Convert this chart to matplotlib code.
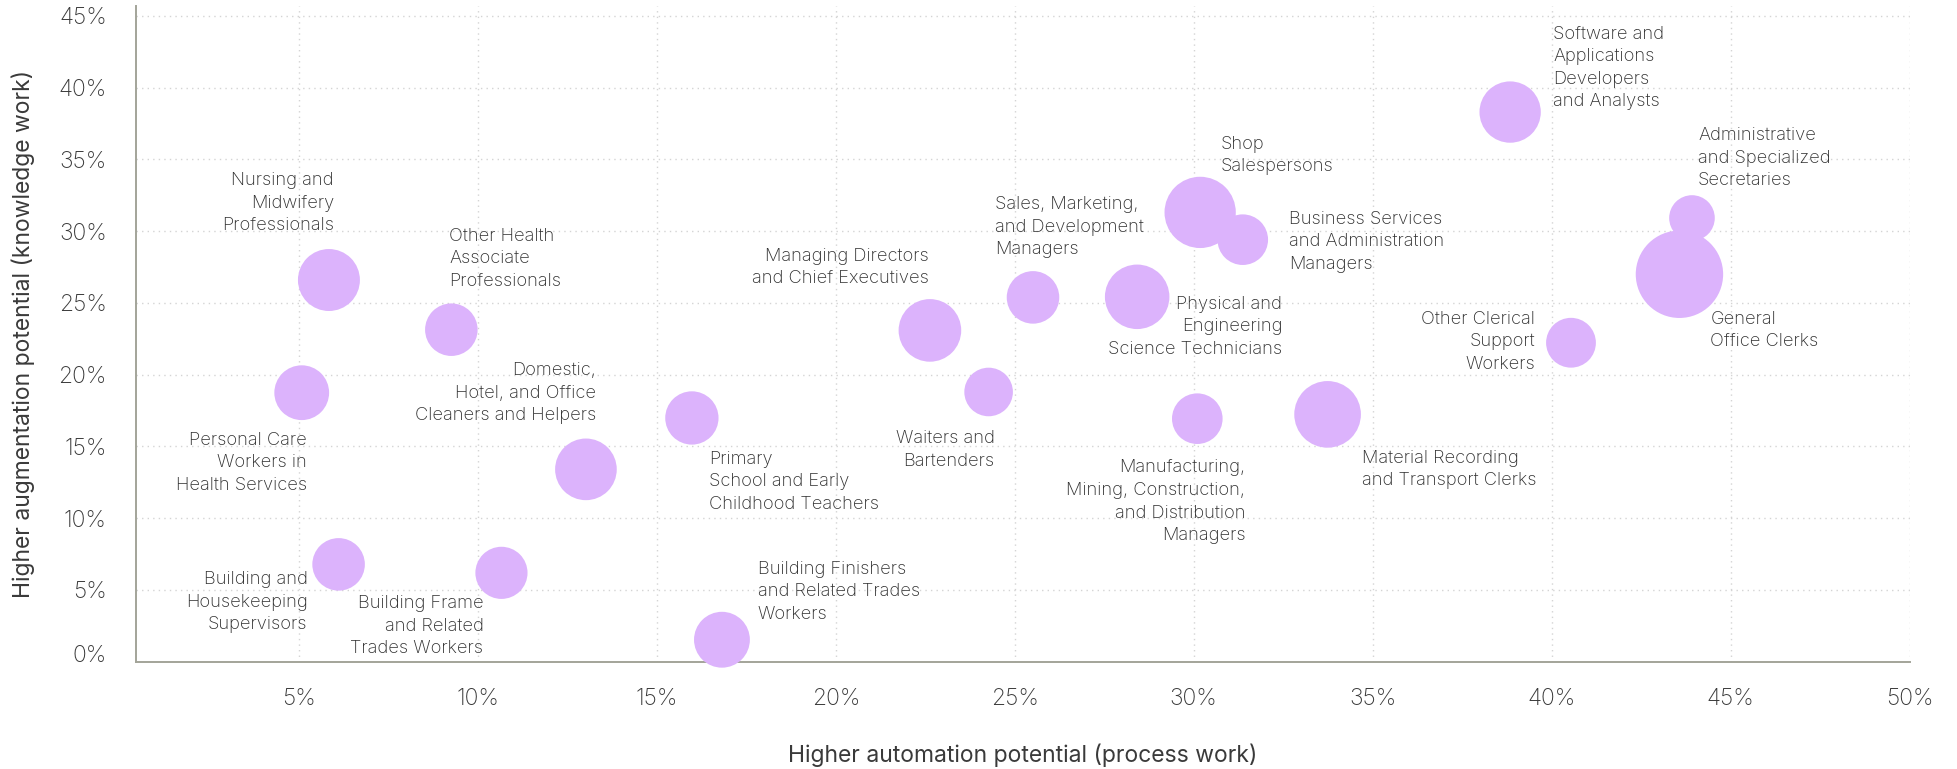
import matplotlib
matplotlib.use("Agg")
import matplotlib.pyplot as plt
import matplotlib.transforms as mtransforms
from matplotlib.ticker import FuncFormatter
import numpy as np

# ---------------- data ----------------
occupations = [
    "Nursing and\nMidwifery\nProfessionals",
    "Other Health\nAssociate\nProfessionals",
    "Personal Care\nWorkers in\nHealth Services",
    "Domestic,\nHotel, and Office\nCleaners and Helpers",
    "Primary\nSchool and Early\nChildhood Teachers",
    "Building and\nHousekeeping\nSupervisors",
    "Building Frame\nand Related\nTrades Workers",
    "Building Finishers\nand Related Trades\nWorkers",
    "Managing Directors\nand Chief Executives",
    "Waiters and\nBartenders",
    "Sales, Marketing,\nand Development\nManagers",
    "Physical and\nEngineering\nScience Technicians",
    "Shop\nSalespersons",
    "Business Services\nand Administration\nManagers",
    "Manufacturing,\nMining, Construction,\nand Distribution\nManagers",
    "Material Recording\nand Transport Clerks",
    "Software and\nApplications\nDevelopers\nand Analysts",
    "Administrative\nand Specialized\nSecretaries",
    "General\nOffice Clerks",
    "Other Clerical\nSupport\nWorkers",
]
automation = [5.84, 9.26, 5.08, 13.02, 15.98, 6.11, 10.66, 16.82, 22.63, 24.27,
              25.51, 28.42, 30.18, 31.37, 30.10, 33.74, 38.84, 43.92, 43.57, 40.54]
augmentation = [26.59, 23.13, 18.74, 13.40, 16.98, 6.78, 6.19, 1.53, 23.08, 18.79,
                25.38, 25.42, 31.30, 29.40, 16.93, 17.23, 38.29, 30.91, 26.99, 22.22]
bubble_size = [9.6, 6.9, 7.5, 9.5, 7.1, 6.9, 6.8, 7.8, 9.8, 5.9,
               6.9, 10.4, 12.7, 6.4, 6.4, 11.1, 9.4, 5.2, 19.1, 6.2]

x_ticks = [5, 10, 15, 20, 25, 30, 35, 40, 45, 50]
y_ticks = [0, 5, 10, 15, 20, 25, 30, 35, 40, 45]

# label layout: (alignment, dx px, dy px downward) relative to bubble centre
label_layout = [
    ("right", 5, -77), ("left", -2, -71), ("right", 5, 70), ("right", 10, -76),
    ("left", 17, 64), ("right", -31, 38), ("right", -18, 53), ("left", 36, -48),
    ("right", -1, -63), ("right", 6, 58), ("left", -38, -70), ("right", 145, 30),
    ("left", 20, -57), ("left", 46, 2), ("right", 48, 83), ("left", 34, 55),
    ("left", 43, -44), ("left", 6, -60), ("left", 31, 56), ("right", -36, -1),
]

# ---------------- style ----------------
FONT = ["Inter", "DejaVu Sans"]
plt.rcParams["font.family"] = FONT
plt.rcParams["font.weight"] = "light"
bubble_color = "#DCB3FC"
text_color = "#2f2f2f"
tick_color = "#3a3a3a"
spine_color = "#a3a499"
grid_color = "#d4d4d4"

dpi = 100
W, H = 1957, 769
ax_left, ax_right, ax_top, ax_bottom = 136, 1909.6, 5.7, 661.7
fig = plt.figure(figsize=(W / dpi, H / dpi), dpi=dpi)
ax = fig.add_axes([ax_left / W, 1 - ax_bottom / H, (ax_right - ax_left) / W, (ax_bottom - ax_top) / H])

s_vals = [(20 * np.sqrt(v) * 72 / dpi) ** 2 for v in bubble_size]
ax.scatter(automation, augmentation, s=s_vals, color=bubble_color, linewidths=0,
           zorder=3, clip_on=False)

for name, x, y, (ha, dx, dy) in zip(occupations, automation, augmentation, label_layout):
    ax.annotate(name, xy=(x, y), xytext=(dx, -dy), textcoords="offset pixels",
                ha=ha, va="center", multialignment=ha, fontsize=13.2,
                color=text_color, linespacing=1.42, zorder=4)

ax.set_xlim(0.45, 50)
ax.set_ylim(0, 45.7)
ax.set_xticks(x_ticks)
ax.set_yticks(y_ticks)
ax.xaxis.set_major_formatter(FuncFormatter(lambda v, p: f"{v:.0f}%"))
ax.yaxis.set_major_formatter(FuncFormatter(lambda v, p: f"{v:.0f}%"))
ax.tick_params(axis="both", length=0, labelsize=16.5, colors=tick_color)
ax.tick_params(axis="x", pad=19)
ax.tick_params(axis="y", pad=21)

# nudge the 0% label upward like the reference
fig.canvas.draw()
lbl0 = ax.get_yticklabels()[0]
lbl0.set_transform(lbl0.get_transform() + mtransforms.ScaledTranslation(0, 8 / dpi, fig.dpi_scale_trans))

ax.grid(True, color=grid_color, linestyle=(0, (1, 3)), linewidth=1.0, zorder=0)
ax.set_axisbelow(True)
for side in ["top", "right"]:
    ax.spines[side].set_visible(False)
for side in ["left", "bottom"]:
    ax.spines[side].set_color(spine_color)
    ax.spines[side].set_linewidth(1.4)

ax_w = ax_right - ax_left
ax_h = ax_bottom - ax_top
xl = ax.set_xlabel("Higher automation potential (process work)", fontsize=16.5,
                   color=tick_color, va="center")
ax.xaxis.set_label_coords(0.5, -(755 - ax_bottom) / ax_h)
yl = ax.set_ylabel("Higher augmentation potential (knowledge work)", fontsize=16.5,
                   color=tick_color, va="center")
ax.yaxis.set_label_coords(-(ax_left - 23) / ax_w, 0.5)

fig.savefig("out.png", dpi=dpi)
